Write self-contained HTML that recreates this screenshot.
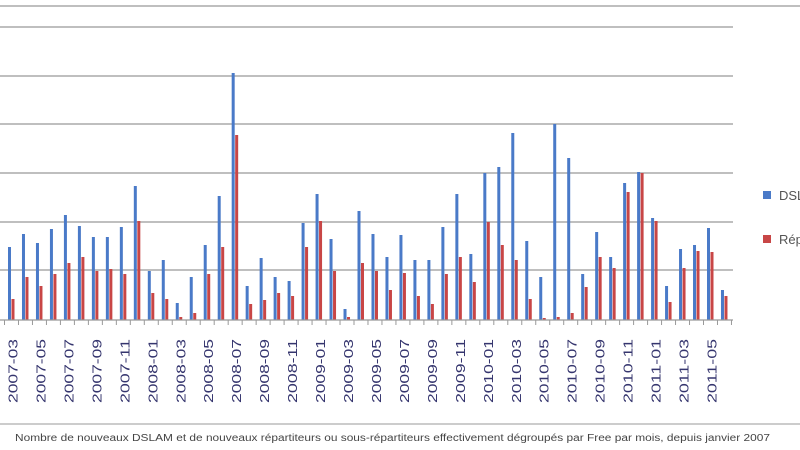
<!DOCTYPE html>
<html><head><meta charset="utf-8"><style>html,body{margin:0;padding:0;background:#fff;width:800px;height:450px;overflow:hidden}</style></head>
<body>
<svg width="800" height="450" xmlns="http://www.w3.org/2000/svg" id="s">
<rect width="800" height="450" fill="#fff"/>
<line x1="0" y1="6" x2="800" y2="6" stroke="#aaa" stroke-width="1.5"/>
<g stroke="#aaa" stroke-width="1.5">
<line x1="0" y1="27" x2="733" y2="27"/>
<line x1="0" y1="76" x2="733" y2="76"/>
<line x1="0" y1="124" x2="733" y2="124"/>
<line x1="0" y1="173" x2="733" y2="173"/>
<line x1="0" y1="222" x2="733" y2="222"/>
<line x1="0" y1="270" x2="733" y2="270"/>
</g>
<g id="bars"></g>
<line x1="0" y1="320" x2="733" y2="320" stroke="#999" stroke-width="1.2"/>
<g id="ticks" stroke="#999" stroke-width="1"></g>
<g id="labels" font-family="Liberation Sans, sans-serif" font-size="13" fill="#35356e"></g>
<rect x="763" y="191" width="8" height="8" fill="#4a7ac8"/>
<text x="779" y="200" font-family="Liberation Sans, sans-serif" font-size="13" fill="#555">DSLAM</text>
<rect x="763" y="235" width="8" height="8" fill="#c84646"/>
<text x="779" y="244" font-family="Liberation Sans, sans-serif" font-size="13" fill="#555">Répartiteurs</text>
<line x1="0" y1="424" x2="800" y2="424" stroke="#bbb" stroke-width="1.5"/>
<text x="15" y="441" font-family="Liberation Sans, sans-serif" font-size="10" fill="#444" textLength="755" lengthAdjust="spacingAndGlyphs">Nombre de nouveaux DSLAM et de nouveaux répartiteurs ou sous-répartiteurs effectivement dégroupés par Free par mois, depuis janvier 2007</text>
</svg>
<script>
var B=[247,234,243,229,215,226,237,237,227,186,271,260,303,277,245,196,73,286,258,277,281,223,194,239,309,211,234,257,235,260,260,227,194,254,173,167,133,241,277,124,158,274,232,257,183,172,218,286,249,245,228,290];
var R=[299,277,286,274,263,257,271,269,274,221,293,299,317,313,274,247,135,304,300,293,296,247,221,271,317,263,271,290,273,296,304,274,257,282,222,245,260,299,318,317,313,287,257,268,192,173,221,302,268,251,252,296];
var ns="http://www.w3.org/2000/svg";
function el(t,a,p){var e=document.createElementNS(ns,t);for(var k in a)e.setAttribute(k,a[k]);p.appendChild(e);return e;}
var g=document.getElementById("bars"),tk=document.getElementById("ticks"),lb=document.getElementById("labels");
el("rect",{x:-3.5+8-13.98+3.5,y:292,width:3,height:28,fill:"#c84646"},g);
for(var m=0;m<52;m++){var x=8+13.98*m;
el("rect",{x:x,y:B[m],width:3,height:320-B[m],fill:"#4a7ac8"},g);
el("rect",{x:x+3.5,y:R[m],width:3,height:320-R[m],fill:"#c84646"},g);}
for(var m=-1;m<=52;m++){var tx=8+13.98*m-3.5;el("line",{x1:tx,y1:320,x2:tx,y2:325},tk);}
for(var m=0;m<=50;m+=2){var cx=8+13.98*m+5;var mo=m+3,yr=2007+Math.floor((mo-1)/12);mo=((mo-1)%12)+1;
var t=el("text",{x:0,y:0,transform:"translate("+(cx+4.5)+",339) rotate(-90)","text-anchor":"end",textLength:"64",lengthAdjust:"spacingAndGlyphs"},lb);
t.textContent=yr+"-"+(mo<10?"0":"")+mo;}
</script>
</body></html>
